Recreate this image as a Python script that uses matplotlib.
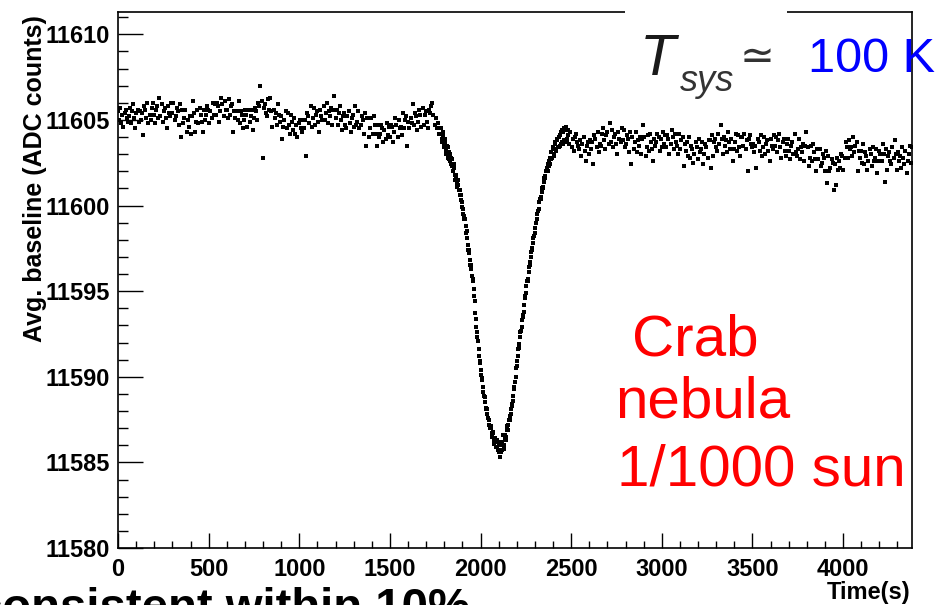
import matplotlib

matplotlib.use("Agg")
import matplotlib.pyplot as plt
import numpy as np
from matplotlib.patches import Rectangle
from matplotlib.ticker import MultipleLocator, StrMethodFormatter

# sampling grids of the three pieces of the drift scan (seconds)
PRE_TIME = np.arange(0, 1777, 6)
DIP_TIME = np.arange(1782, 2482, 3)
POST_TIME = np.arange(2484, 4381, 6)

# averaged baseline, ADC counts
PRE_BASELINE = [
    11605.5, 11605.0, 11605.7, 11604.8, 11605.3, 11604.6, 11605.4, 11605.6, 11605.1, 11604.9,
    11605.2, 11605.7, 11604.8, 11605.5, 11605.9, 11605.1, 11604.5, 11605.4, 11605.6, 11604.9,
    11605.5, 11605.0, 11605.4, 11604.1, 11605.8, 11605.6, 11605.1, 11606.0, 11604.8, 11605.3,
    11605.0, 11605.7, 11606.0, 11605.3, 11604.8, 11605.6, 11605.8, 11605.1, 11606.3, 11605.2,
    11605.9, 11604.9, 11605.5, 11605.7, 11605.1, 11604.5, 11605.8, 11605.4, 11605.2, 11606.0,
    11605.4, 11606.0, 11605.0, 11605.2, 11605.7, 11605.5, 11604.7, 11605.9, 11604.0, 11605.6,
    11604.8, 11605.1, 11605.6, 11604.3, 11605.0, 11604.6, 11605.2, 11604.2, 11605.2, 11606.1,
    11605.4, 11604.3, 11604.9, 11605.6, 11604.8, 11605.7, 11605.3, 11604.9, 11604.3, 11605.6,
    11605.0, 11605.3, 11605.8, 11605.6, 11604.8, 11605.5, 11605.1, 11606.0, 11605.3, 11605.9,
    11605.3, 11606.0, 11605.8, 11604.9, 11605.5, 11606.3, 11605.9, 11605.2, 11606.1, 11605.6,
    11605.6, 11605.1, 11606.2, 11605.3, 11605.8, 11605.9, 11604.3, 11605.5, 11605.1, 11605.5,
    11605.0, 11606.1, 11604.8, 11605.5, 11605.3, 11604.5, 11605.0, 11605.6, 11605.3, 11604.6,
    11605.6, 11604.9, 11605.2, 11605.6, 11604.4, 11605.1, 11605.7, 11605.5, 11605.0, 11606.0,
    11605.8, 11607.0, 11606.1, 11602.8, 11605.7, 11605.9, 11605.4, 11605.2, 11606.2, 11605.6,
    11606.3, 11605.5, 11604.6, 11605.6, 11605.1, 11605.4, 11604.7, 11605.9, 11605.3, 11604.9,
    11605.2, 11603.9, 11604.6, 11605.0, 11605.5, 11604.5, 11605.4, 11604.7, 11604.2, 11605.3,
    11604.9, 11604.4, 11605.1, 11604.2, 11604.7, 11604.0, 11604.8, 11605.0, 11604.5, 11604.3,
    11605.0, 11604.5, 11605.0, 11602.9, 11605.4, 11605.2, 11604.8, 11605.8, 11604.6, 11605.1,
    11605.7, 11604.7, 11605.3, 11605.5, 11604.9, 11604.3, 11605.6, 11605.2, 11605.0, 11605.8,
    11605.0, 11605.4, 11606.0, 11604.8, 11605.5, 11605.2, 11605.7, 11604.7, 11605.6, 11606.4,
    11605.1, 11605.6, 11604.7, 11605.4, 11605.8, 11605.0, 11604.4, 11605.2, 11605.4, 11604.7,
    11604.5, 11605.2, 11605.5, 11604.8, 11604.3, 11605.1, 11605.3, 11604.6, 11605.8, 11604.7,
    11604.9, 11605.5, 11604.5, 11604.7, 11605.2, 11605.0, 11604.2, 11605.4, 11603.5, 11605.1,
    11605.1, 11604.0, 11604.5, 11605.1, 11604.2, 11605.2, 11604.7, 11604.2, 11603.5, 11604.7,
    11604.0, 11604.2, 11604.7, 11604.5, 11603.7, 11604.4, 11603.9, 11604.8, 11604.1, 11604.6,
    11604.0, 11604.7, 11604.6, 11603.7, 11604.3, 11605.1, 11604.7, 11604.0, 11605.0, 11604.5,
    11604.6, 11604.1, 11605.4, 11604.5, 11605.0, 11605.2, 11603.5, 11604.9, 11604.5, 11605.1,
    11604.8, 11605.9, 11604.7, 11605.4, 11605.2, 11604.4, 11604.9, 11605.6, 11605.3, 11604.6,
    11605.7, 11604.7, 11605.3, 11605.5, 11604.9, 11604.5, 11605.6, 11605.4, 11605.8, 11606.0,
    11605.3, 11604.7, 11605.1, 11604.5, 11604.8, 11604.2, 11604.5,
]

DIP_BASELINE = [
    11604.5, 11603.9, 11603.7, 11604.3, 11604.1, 11603.5, 11603.4, 11603.9, 11603.7, 11603.2,
    11603.0, 11603.5, 11603.4, 11602.8, 11602.7, 11603.1, 11603.0, 11602.6, 11602.4, 11602.8,
    11602.7, 11602.3, 11602.0, 11602.4, 11602.2, 11601.8, 11601.5, 11601.8, 11601.7, 11601.3,
    11601.1, 11601.5, 11601.2, 11600.9, 11600.6, 11600.9, 11600.6, 11600.3, 11599.9, 11600.2,
    11599.8, 11599.5, 11599.2, 11599.4, 11599.2, 11598.8, 11598.4, 11598.5, 11598.1, 11597.7,
    11597.4, 11597.4, 11597.2, 11596.8, 11596.5, 11596.5, 11596.3, 11595.9, 11595.7, 11595.6,
    11595.1, 11594.7, 11594.4, 11593.7, 11593.4, 11592.9, 11592.6, 11592.3, 11592.1, 11591.6,
    11591.2, 11590.9, 11590.8, 11590.4, 11590.1, 11589.9, 11589.8, 11589.4, 11589.1, 11588.9,
    11588.8, 11588.5, 11588.2, 11588.1, 11588.1, 11587.8, 11587.6, 11587.6, 11587.5, 11587.2,
    11587.0, 11587.1, 11587.0, 11586.7, 11586.5, 11586.8, 11586.7, 11586.3, 11586.1, 11586.4,
    11586.4, 11585.9, 11585.9, 11586.3, 11586.2, 11585.7, 11585.6, 11586.1, 11586.0, 11585.3,
    11585.6, 11586.0, 11585.7, 11586.2, 11586.6, 11585.8, 11586.0, 11586.4, 11586.6, 11586.3,
    11586.5, 11586.9, 11587.1, 11586.9, 11587.2, 11587.5, 11587.7, 11587.5, 11587.8, 11588.1,
    11588.4, 11588.3, 11588.6, 11588.9, 11589.3, 11589.4, 11589.7, 11590.0, 11590.5, 11590.6,
    11590.9, 11591.2, 11591.6, 11591.7, 11591.9, 11592.3, 11592.6, 11592.7, 11592.9, 11593.3,
    11593.5, 11593.6, 11593.8, 11594.2, 11594.6, 11594.7, 11594.9, 11595.3, 11595.6, 11595.6,
    11595.7, 11596.1, 11596.4, 11596.5, 11596.7, 11597.0, 11597.3, 11597.4, 11597.5, 11597.8,
    11598.1, 11598.2, 11598.4, 11598.7, 11599.0, 11599.0, 11599.2, 11599.5, 11599.7, 11599.7,
    11599.8, 11600.2, 11600.4, 11600.4, 11600.5, 11600.8, 11601.0, 11601.0, 11601.1, 11601.4,
    11601.6, 11601.6, 11601.7, 11602.0, 11602.2, 11602.0, 11602.0, 11602.4, 11602.6, 11602.3,
    11602.4, 11602.8, 11603.1, 11602.7, 11602.8, 11603.3, 11603.4, 11602.9, 11603.0, 11603.6,
    11603.7, 11603.2, 11603.3, 11603.8, 11603.9, 11603.4, 11603.4, 11604.0, 11604.1, 11603.5,
    11603.6, 11604.3, 11604.4, 11603.7, 11603.6, 11604.3, 11604.5, 11603.8, 11603.7, 11604.4,
    11604.6, 11603.9, 11603.8, 11604.4,
]

POST_BASELINE = [
    11604.1, 11603.6, 11604.3, 11603.4, 11603.9, 11603.2, 11604.0, 11604.2, 11603.7, 11603.5,
    11603.3, 11603.8, 11602.9, 11603.6, 11604.0, 11603.2, 11602.6, 11603.5, 11603.7, 11603.0,
    11603.8, 11603.3, 11603.7, 11602.4, 11604.1, 11603.9, 11603.4, 11604.3, 11603.1, 11603.6,
    11603.5, 11604.2, 11604.5, 11603.8, 11603.3, 11604.1, 11604.3, 11603.6, 11604.8, 11603.7,
    11604.4, 11603.4, 11604.0, 11604.2, 11603.6, 11603.0, 11604.3, 11603.9, 11603.7, 11604.5,
    11603.8, 11604.4, 11603.4, 11603.6, 11604.1, 11603.9, 11603.1, 11604.3, 11602.4, 11604.0,
    11603.3, 11603.7, 11604.3, 11603.1, 11603.8, 11603.5, 11604.0, 11603.0, 11603.9, 11604.7,
    11604.0, 11602.9, 11603.4, 11604.1, 11603.2, 11604.2, 11603.7, 11603.3, 11602.6, 11603.9,
    11603.5, 11603.7, 11604.2, 11604.0, 11603.2, 11603.9, 11603.4, 11604.3, 11603.6, 11604.1,
    11603.4, 11604.1, 11603.9, 11603.0, 11603.6, 11604.4, 11604.0, 11603.3, 11604.2, 11603.7,
    11603.5, 11603.0, 11604.2, 11603.3, 11603.8, 11604.0, 11602.3, 11603.6, 11603.2, 11603.7,
    11602.9, 11604.0, 11602.8, 11603.5, 11603.3, 11602.5, 11603.0, 11603.7, 11603.4, 11602.7,
    11603.9, 11603.1, 11603.3, 11603.7, 11602.4, 11603.0, 11603.6, 11603.4, 11602.8, 11603.8,
    11603.8, 11602.2, 11604.1, 11602.9, 11603.7, 11603.9, 11603.4, 11603.2, 11604.2, 11603.6,
    11604.7, 11603.9, 11603.0, 11604.0, 11603.5, 11603.8, 11603.1, 11604.3, 11603.7, 11603.3,
    11603.9, 11602.6, 11603.3, 11603.7, 11604.2, 11603.2, 11604.1, 11603.4, 11602.9, 11604.0,
    11604.0, 11603.5, 11604.2, 11603.3, 11603.8, 11602.0, 11603.9, 11604.1, 11603.6, 11603.4,
    11603.6, 11603.1, 11603.5, 11602.2, 11603.9, 11603.7, 11603.2, 11604.1, 11602.9, 11603.4,
    11604.0, 11603.0, 11603.6, 11603.8, 11603.2, 11602.6, 11603.9, 11603.5, 11603.3, 11604.1,
    11603.5, 11604.0, 11603.1, 11603.8, 11604.2, 11603.4, 11602.8, 11603.7, 11603.9, 11603.2,
    11602.9, 11603.6, 11603.9, 11603.2, 11602.7, 11603.5, 11603.7, 11603.0, 11604.2, 11603.1,
    11602.9, 11603.3, 11603.9, 11602.7, 11603.4, 11603.1, 11603.6, 11602.6, 11603.5, 11604.3,
    11603.4, 11602.3, 11602.8, 11603.5, 11602.6, 11603.6, 11603.1, 11602.7, 11602.0, 11603.3,
    11602.7, 11603.3, 11602.3, 11602.5, 11603.0, 11602.8, 11602.0, 11603.2, 11601.3, 11602.9,
    11602.0, 11602.2, 11602.7, 11602.5, 11600.9, 11602.4, 11601.2, 11602.8, 11602.1, 11602.6,
    11602.2, 11603.0, 11602.9, 11602.1, 11602.8, 11603.7, 11603.4, 11602.8, 11603.8, 11603.3,
    11603.4, 11602.9, 11604.0, 11603.1, 11603.5, 11603.7, 11602.0, 11603.2, 11602.8, 11603.2,
    11602.5, 11603.6, 11602.4, 11603.1, 11602.9, 11602.1, 11602.6, 11603.3, 11603.0, 11602.3,
    11603.4, 11602.6, 11602.8, 11603.3, 11601.9, 11602.6, 11603.2, 11603.0, 11602.6, 11603.6,
    11603.0, 11601.4, 11603.3, 11602.1, 11602.9, 11603.1, 11602.6, 11602.4, 11603.4, 11602.8,
    11603.8, 11603.0, 11602.1, 11603.1, 11602.6, 11602.9, 11602.2, 11603.4, 11602.8, 11602.4,
    11603.2, 11601.9, 11602.6, 11603.0, 11603.5, 11602.5, 11603.4,
]

X_TICKS = [0, 500, 1000, 1500, 2000, 2500, 3000, 3500, 4000]
Y_TICKS = [11580, 11585, 11590, 11595, 11600, 11605, 11610]

W, H = 938, 605


def fx(px):
    return px / W


def fy(py):
    return 1 - py / H


def main() -> None:
    plt.rcParams["font.family"] = ["Liberation Sans", "DejaVu Sans"]
    fig = plt.figure(figsize=(W / 100, H / 100), dpi=100)
    ax = fig.add_axes([fx(118), fy(548), (912 - 118) / W, (548 - 12) / H])

    for t, v in ((PRE_TIME, PRE_BASELINE), (DIP_TIME, DIP_BASELINE), (POST_TIME, POST_BASELINE)):
        ax.plot(t, v, linestyle="none", marker="s", markersize=2.3, markeredgewidth=0, color="black")

    ax.set_xlim(0, 4380)
    ax.set_ylim(11580, 11611.3)
    ax.set_xticks(X_TICKS)
    ax.set_yticks(Y_TICKS)
    ax.xaxis.set_minor_locator(MultipleLocator(100))
    ax.yaxis.set_minor_locator(MultipleLocator(1))
    ax.yaxis.set_major_formatter(StrMethodFormatter("{x:.0f}"))
    ax.tick_params(which="both", direction="in", top=False, right=False, width=1.0, labelsize=17)
    ax.tick_params(axis="y", which="major", length=18, pad=6)
    ax.tick_params(axis="y", which="minor", length=7.5)
    ax.tick_params(axis="x", which="major", length=11, pad=7)
    ax.tick_params(axis="x", which="minor", length=5)
    for lab in ax.get_xticklabels() + ax.get_yticklabels():
        lab.set_fontweight("bold")
    for sp in ax.spines.values():
        sp.set_linewidth(1.2)

    # white patch hiding the frame behind the Tsys label
    fig.add_artist(Rectangle((fx(625), fy(105)), 162 / W, 105 / H, transform=fig.transFigure,
                             facecolor="white", edgecolor="none", zorder=2))

    fig.text(fx(640), fy(75), "T", style="italic", fontsize=42, color="#1a1a1a", va="baseline", zorder=3)
    fig.text(fx(680), fy(91), "sys", style="italic", fontsize=26, color="#333333", va="baseline", zorder=3)
    fig.text(fx(757), fy(57), "\u2243", family=["DejaVu Sans"], fontsize=30, color="#333333",
             ha="center", va="center", zorder=3)
    fig.text(fx(808), fy(72), "100 K", fontsize=35, color="#0000ff", va="baseline", zorder=3)

    red = dict(fontsize=42, color="#ff0000", va="baseline")
    fig.text(fx(632), fy(355), "Crab", **red)
    fig.text(fx(615), fy(418), "nebula", **red)
    fig.text(fx(617), fy(485), "1/1000 sun", **red)

    fig.text(fx(35), fy(179), "Avg. baseline (ADC counts)", rotation=90, fontsize=18,
             fontweight="bold", ha="center", va="center")
    fig.text(fx(910), fy(581), "Time(s)", fontsize=17, fontweight="bold", ha="right", va="top")
    fig.text(fx(-24), fy(621), "consistent within 10%", fontsize=34, fontweight="bold", va="baseline")

    fig.savefig("out.png", dpi=100)


if __name__ == "__main__":
    main()
